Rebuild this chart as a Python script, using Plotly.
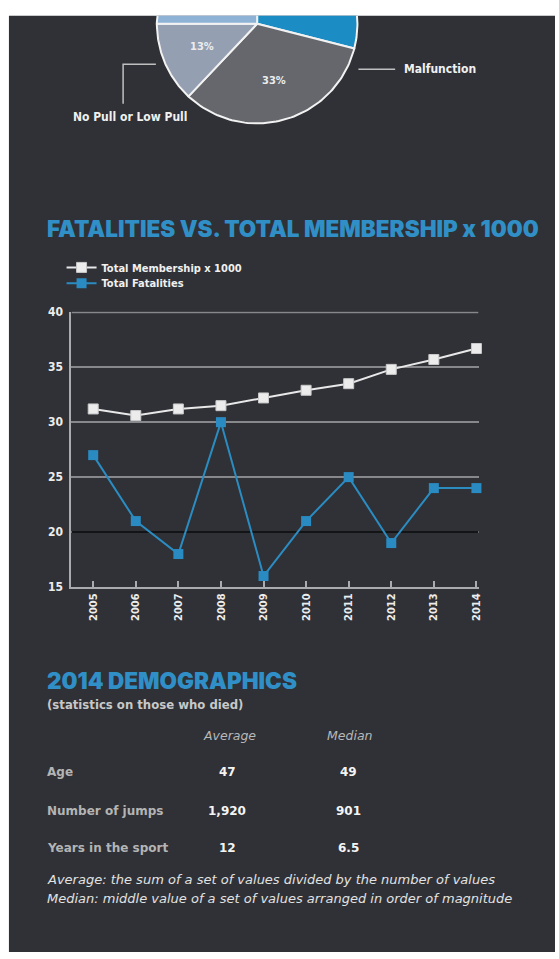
import numpy as np
import plotly.graph_objects as go

# ---------------- data ----------------
pie_labels = ["Top right (cut off)", "Malfunction", "No Pull or Low Pull", "Top left (cut off)"]
pie_values = [29, 33, 13, 25]
pie_colors = ["#1b8dc4", "#66676c", "#959fb2", "#8db2d6"]
pie_show_pct = [False, True, True, False]

years = [2005, 2006, 2007, 2008, 2009, 2010, 2011, 2012, 2013, 2014]
membership = [31.2, 30.6, 31.2, 31.5, 32.2, 32.9, 33.5, 34.8, 35.7, 36.7]
fatalities = [27, 21, 18, 30, 16, 21, 25, 19, 24, 24]
y_ticks = [15, 20, 25, 30, 35, 40]

demo_rows = ["Age", "Number of jumps", "Years in the sport"]
demo_avg = ["47", "1,920", "12"]
demo_median = ["49", "901", "6.5"]
demo_cols = ["Average", "Median"]
footnotes = ["Average: the sum of a set of values divided by the number of values",
             "Median: middle value of a set of values arranged in order of magnitude"]

# ---------------- style ----------------
W, H = 559, 959
BG = "#2f3136"
BLUE = "#2f8fc6"
GRID = "#86888c"
COND = "Liberation Sans Narrow, DejaVu Sans Condensed, Roboto, sans-serif"
HEAVY = "Inter, Lato, Roboto, sans-serif"
BODY = "DejaVu Sans, Verdana, sans-serif"


def px_x(p):
    return p / W


def px_y(p):
    return 1 - p / H


fig = go.Figure()

# ---------------- pie (wedges in a clipped cartesian subplot) ----------------
cum = np.concatenate([[0], np.cumsum(pie_values)]) / float(sum(pie_values))
for i, (lab, v) in enumerate(zip(pie_labels, pie_values)):
    a0 = np.pi / 2 - 2 * np.pi * cum[i]
    a1 = np.pi / 2 - 2 * np.pi * cum[i + 1]
    t = np.linspace(a0, a1, 80)
    xs = np.concatenate([[0], np.cos(t), [0]])
    ys = np.concatenate([[0], np.sin(t), [0]])
    fig.add_trace(go.Scatter(x=xs, y=ys, mode="lines", fill="toself",
                             fillcolor=pie_colors[i],
                             line=dict(color="#f2f2f2", width=2),
                             name=lab, showlegend=False, hoverinfo="name",
                             xaxis="x2", yaxis="y2"))
    if pie_show_pct[i]:
        am = (a0 + a1) / 2
        fig.add_trace(go.Scatter(x=[0.6 * np.cos(am)], y=[0.6 * np.sin(am)],
                                 mode="text", text=[f"{v}%"],
                                 textfont=dict(family=COND, size=11, color="#ececec", weight="bold"),
                                 showlegend=False, hoverinfo="skip",
                                 xaxis="x2", yaxis="y2"))

# ---------------- line chart ----------------
fig.add_trace(go.Scatter(x=years, y=membership, mode="lines+markers",
                         name="Total Membership x 1000", legend="legend",
                         line=dict(color="#e8e8e8", width=2),
                         marker=dict(symbol="square", size=10, color="#ececec",
                                     line=dict(color="#c9c9c9", width=1)),
                         cliponaxis=False))
fig.add_trace(go.Scatter(x=years, y=fatalities, mode="lines+markers",
                         name="Total Fatalities", legend="legend2",
                         line=dict(color="#2b8cc2", width=2),
                         marker=dict(symbol="square", size=10, color="#2a8bc2",
                                     line=dict(color="#2a8bc2", width=0)),
                         cliponaxis=False))

x_lo, x_hi = 2004.49, 2014.05
shapes = [
    # dark panel
    dict(type="rect", xref="paper", yref="paper", x0=px_x(9), x1=1, y0=0, y1=px_y(10),
         fillcolor=BG, line=dict(width=0), layer="below"),
    # Malfunction leader
    dict(type="line", xref="paper", yref="paper", x0=px_x(361), x1=px_x(398),
         y0=px_y(64), y1=px_y(64), line=dict(color="#bfbfbf", width=1.5)),
    # No Pull leader (elbow)
    dict(type="path", xref="paper", yref="paper",
         path=f"M {px_x(157)} {px_y(59)} L {px_x(124)} {px_y(59)} L {px_x(124)} {px_y(99)}",
         line=dict(color="#bfbfbf", width=1.5)),
    # dark gridline at 20 (between grid and traces)
    dict(type="line", xref="x", yref="y", x0=x_lo, x1=x_hi, y0=20, y1=20,
         line=dict(color="#131416", width=2), layer="between"),
    # top gridline at 40
    dict(type="line", xref="x", yref="y", x0=x_lo, x1=x_hi, y0=40, y1=40,
         line=dict(color=GRID, width=2), layer="between"),
]

ann = []
ann.append(dict(text="Malfunction", x=px_x(405), y=px_y(64), xref="paper", yref="paper",
                xanchor="left", yanchor="middle", showarrow=False,
                font=dict(family=COND, size=12, color="#f0f0f0", weight="bold")))
ann.append(dict(text="No Pull or Low Pull", x=px_x(72), y=px_y(113), xref="paper", yref="paper",
                xanchor="left", yanchor="middle", showarrow=False,
                font=dict(family=COND, size=12, color="#f0f0f0", weight="bold")))
ann.append(dict(text="FATALITIES VS. TOTAL MEMBERSHIP x 1000", x=px_x(45), y=px_y(226),
                xref="paper", yref="paper", xanchor="left", yanchor="middle", showarrow=False,
                font=dict(family=HEAVY, size=22.5, color=BLUE, weight=900)))
ann.append(dict(text="2014 DEMOGRAPHICS", x=px_x(45), y=px_y(684),
                xref="paper", yref="paper", xanchor="left", yanchor="middle", showarrow=False,
                font=dict(family=HEAVY, size=22.5, color=BLUE, weight=900)))
ann.append(dict(text="(statistics on those who died)", x=px_x(45), y=px_y(709),
                xref="paper", yref="paper", xanchor="left", yanchor="middle", showarrow=False,
                font=dict(family=BODY, size=11.7, color="#c8c8c8", weight="bold")))
col_x = [231, 353]
for cx, c in zip(col_x, demo_cols):
    ann.append(dict(text=c, x=px_x(cx), y=px_y(740), xref="paper", yref="paper",
                    xanchor="center", yanchor="middle", showarrow=False,
                    font=dict(family=BODY, size=12.5, color="#b8b8b8", style="italic")))
row_y = [777, 816, 854]
for ry, lab, a, m in zip(row_y, demo_rows, demo_avg, demo_median):
    ann.append(dict(text=lab, x=px_x(45), y=px_y(ry), xref="paper", yref="paper",
                    xanchor="left", yanchor="middle", showarrow=False,
                    font=dict(family=BODY, size=12, color="#b4b4b4", weight="bold")))
    for cx, val in zip(col_x, [a, m]):
        ann.append(dict(text=val, x=px_x(cx - 2), y=px_y(ry), xref="paper", yref="paper",
                        xanchor="center", yanchor="middle", showarrow=False,
                        font=dict(family=BODY, size=12, color="#f4f4f4", weight="bold")))
for fy, ft in zip([886, 905], footnotes):
    ann.append(dict(text=ft, x=px_x(45), y=px_y(fy), xref="paper", yref="paper",
                    xanchor="left", yanchor="middle", showarrow=False,
                    font=dict(family=BODY, size=13, color="#e2e2e2", style="italic")))

legend_common = dict(xanchor="left", yanchor="middle", bgcolor="rgba(0,0,0,0)",
                     font=dict(family=COND, size=11, color="#f0f0f0", weight="bold"),
                     itemwidth=30)
fig.update_layout(
    width=W, height=H,
    margin=dict(l=0, r=0, t=0, b=0),
    paper_bgcolor="white",
    plot_bgcolor="rgba(0,0,0,0)",
    shapes=shapes,
    annotations=ann,
    showlegend=True,
    legend=dict(x=px_x(62), y=px_y(265), **legend_common),
    legend2=dict(x=px_x(62), y=px_y(281), **legend_common),
    xaxis=dict(domain=[px_x(72), px_x(482)], range=[x_lo, x_hi],
               tickmode="array", tickvals=years, ticktext=[str(y) for y in years],
               tickangle=-90, ticks="inside", ticklen=6, tickwidth=2, tickcolor="#a9abae",
               showline=True, linecolor="#a9abae", linewidth=2, showgrid=False, zeroline=False,
               tickfont=dict(family=COND, size=11, color="#ececec", weight="bold"),
               fixedrange=True),
    yaxis=dict(domain=[px_y(589), px_y(310)], range=[15, 40.04],
               tickmode="array", tickvals=y_ticks, ticks="",
               showline=True, linecolor="#a9abae", linewidth=2,
               showgrid=True, gridcolor=GRID, gridwidth=2, zeroline=False,
               ticklabelstandoff=4,
               tickfont=dict(family=COND, size=12, color="#ececec", weight="bold"),
               fixedrange=True),
    xaxis2=dict(domain=[px_x(140), px_x(380)], range=[(140 - 259) / 101, (380 - 259) / 101],
                visible=False, fixedrange=True),
    yaxis2=dict(domain=[px_y(130), px_y(10)], range=[-(130 - 18) / 101, (18 - 10) / 101],
                visible=False, fixedrange=True),
)

fig.write_html("out.html")
